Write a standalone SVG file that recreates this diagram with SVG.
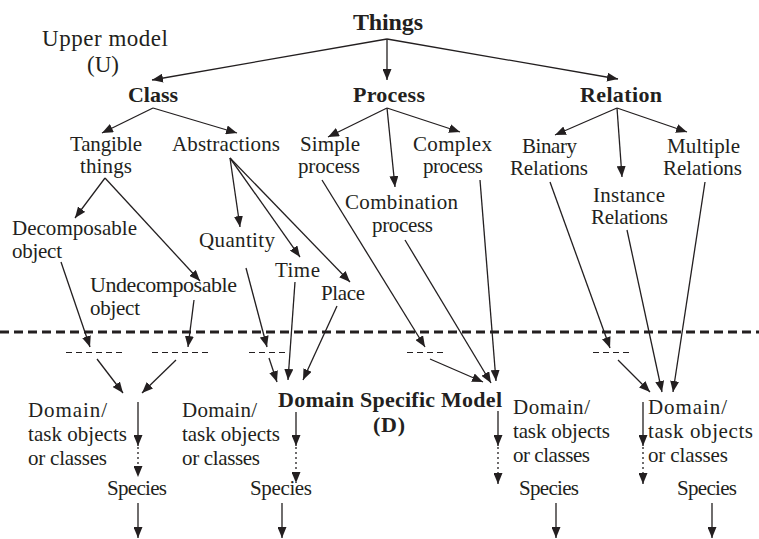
<svg xmlns="http://www.w3.org/2000/svg" width="759" height="539" viewBox="0 0 759 539">
<style>
text{font-family:"Liberation Serif","Times New Roman",serif;font-size:21px;fill:#231f20}
.b{font-weight:bold;font-size:22px}
.big{font-size:23px}
.c line{stroke:#231f20;stroke-width:1.3;fill:none}
.c .a{marker-end:url(#ah)}
.c .dot{stroke-dasharray:2 3}
.c .sep{stroke-width:3;stroke-dasharray:9 5}
.c .sd{stroke-width:1.2;stroke-dasharray:6 4}
</style>
<defs>
<marker id="ah" viewBox="0 0 11 9" refX="11" refY="4.5" markerWidth="11" markerHeight="9" markerUnits="userSpaceOnUse" orient="auto">
<path d="M0,0 L11,4.5 L0,9 Z" fill="#231f20"/>
</marker>
</defs>
<rect width="759" height="539" fill="#fff"/>

<g id="upper-label"><text class="big" x="42" y="46" textLength="126">Upper model</text><text class="big" x="87" y="72">(U)</text></g>
<g id="things"><text class="b" style="font-size:24px" x="353" y="30" textLength="70">Things</text></g>
<g id="class"><text class="b" x="128" y="102" textLength="50">Class</text></g>
<g id="process"><text class="b" x="353" y="102" textLength="72">Process</text></g>
<g id="relation"><text class="b" x="580" y="102" textLength="82">Relation</text></g>
<g id="tangible"><text x="70" y="151" textLength="72">Tangible</text><text x="80" y="173" textLength="52">things</text></g>
<g id="abstractions"><text x="172" y="151" textLength="108">Abstractions</text></g>
<g id="simple"><text x="300" y="151" textLength="60">Simple</text><text x="298" y="173" textLength="62">process</text></g>
<g id="complex"><text x="413" y="151" textLength="79">Complex</text><text x="423" y="173" textLength="60">process</text></g>
<g id="binary"><text x="522" y="153" textLength="55">Binary</text><text x="510" y="175" textLength="78">Relations</text></g>
<g id="multiple"><text x="667" y="153" textLength="73">Multiple</text><text x="663" y="175" textLength="79">Relations</text></g>
<g id="instance"><text x="593" y="202" textLength="72">Instance</text><text x="591" y="224" textLength="77">Relations</text></g>
<g id="combination"><text x="345" y="209" textLength="113">Combination</text><text x="372" y="232" textLength="61">process</text></g>
<g id="decomposable"><text x="12" y="235" textLength="125">Decomposable</text><text x="12" y="258" textLength="50">object</text></g>
<g id="undecomposable"><text style="font-size:22px" x="90" y="292" textLength="147">Undecomposable</text><text x="90" y="315" textLength="50">object</text></g>
<g id="quantity"><text x="199" y="247" textLength="76">Quantity</text></g>
<g id="time"><text x="275" y="277" textLength="45">Time</text></g>
<g id="place"><text x="321" y="300" textLength="44">Place</text></g>
<g id="dsm"><text class="b" x="278" y="407" textLength="224">Domain Specific Model</text><text class="b" x="373" y="432" textLength="32">(D)</text></g>
<g id="domain1"><text x="28" y="417" textLength="79">Domain/</text><text x="28" y="441" textLength="99">task objects</text><text x="28" y="465" textLength="79">or classes</text></g>
<g id="species1"><text x="107" y="495" textLength="60">Species</text></g>
<g id="domain2"><text x="182" y="417" textLength="75">Domain/</text><text x="182" y="441" textLength="98">task objects</text><text x="182" y="465" textLength="78">or classes</text></g>
<g id="species2"><text x="250" y="495" textLength="62">Species</text></g>
<g id="domain3"><text x="513" y="414" textLength="77">Domain/</text><text x="513" y="438" textLength="97">task objects</text><text x="513" y="462" textLength="77">or classes</text></g>
<g id="species3"><text x="519" y="495" textLength="60">Species</text></g>
<g id="domain4"><text x="648" y="414" textLength="79">Domain/</text><text x="648" y="438" textLength="105">task objects</text><text x="648" y="462" textLength="80">or classes</text></g>
<g id="species4"><text x="677" y="495" textLength="60">Species</text></g>

<g id="connectors" class="c">
<line class="sep" x1="0" y1="332" x2="759" y2="332"/>
<line class="sd" x1="66" y1="352.5" x2="122" y2="352.5"/>
<line class="sd" x1="152" y1="352.5" x2="208" y2="352.5"/>
<line class="sd" x1="249" y1="352.5" x2="287" y2="352.5"/>
<line class="sd" x1="407" y1="352.5" x2="443" y2="352.5"/>
<line class="sd" x1="593" y1="352.5" x2="632" y2="352.5"/>

<line class="a" x1="387" y1="39" x2="152" y2="80"/>
<line class="a" x1="387" y1="39" x2="387" y2="80"/>
<line class="a" x1="387" y1="39" x2="618" y2="79"/>
<line class="a" x1="153" y1="108" x2="102" y2="133"/>
<line class="a" x1="153" y1="108" x2="237" y2="133"/>
<line class="a" x1="387" y1="108" x2="328" y2="137"/>
<line class="a" x1="387" y1="108" x2="395" y2="187"/>
<line class="a" x1="387" y1="108" x2="460" y2="132"/>
<line class="a" x1="617" y1="108" x2="555" y2="135"/>
<line class="a" x1="617" y1="108" x2="622" y2="177"/>
<line class="a" x1="617" y1="108" x2="687" y2="132"/>
<line class="a" x1="105" y1="178" x2="75" y2="218"/>
<line class="a" x1="105" y1="178" x2="200" y2="281"/>
<line class="a" x1="230" y1="158" x2="240" y2="227"/>
<line class="a" x1="230" y1="158" x2="300" y2="257"/>
<line class="a" x1="230" y1="158" x2="350" y2="282"/>
<line class="a" x1="322" y1="180" x2="425" y2="347"/>
<line class="a" x1="480" y1="180" x2="496" y2="381"/>
<line class="a" x1="405" y1="240" x2="491" y2="383"/>
<line class="a" x1="550" y1="182" x2="610" y2="348"/>
<line class="a" x1="627" y1="230" x2="662" y2="392"/>
<line class="a" x1="705" y1="182" x2="673" y2="392"/>
<line class="a" x1="61" y1="262" x2="90" y2="347"/>
<line class="a" x1="194" y1="300" x2="188" y2="347"/>
<line class="a" x1="246" y1="268" x2="267" y2="347"/>
<line class="a" x1="295" y1="282" x2="288" y2="380"/>
<line class="a" x1="337" y1="306" x2="303" y2="380"/>
<line class="a" x1="97" y1="359" x2="123" y2="393"/>
<line class="a" x1="176" y1="360" x2="142" y2="393"/>
<line class="a" x1="269" y1="358" x2="277" y2="382"/>
<line class="a" x1="430" y1="359" x2="483" y2="382"/>
<line class="a" x1="618" y1="360" x2="650" y2="392"/>

<line class="a" x1="138" y1="402" x2="138" y2="446"/>
<line class="a dot" x1="138" y1="447" x2="138" y2="477"/>
<line class="a" x1="138" y1="503" x2="138" y2="538"/>
<line class="a" x1="296" y1="412" x2="296" y2="446"/>
<line class="a dot" x1="296" y1="447" x2="296" y2="483"/>
<line class="a" x1="282" y1="503" x2="282" y2="538"/>
<line class="a" x1="498" y1="411" x2="498" y2="446"/>
<line class="a dot" x1="498" y1="447" x2="498" y2="484"/>
<line class="a" x1="556" y1="503" x2="556" y2="538"/>
<line class="a" x1="643" y1="402" x2="643" y2="446"/>
<line class="a dot" x1="643" y1="447" x2="643" y2="484"/>
<line class="a" x1="712" y1="503" x2="712" y2="538"/>
</g>
</svg>
